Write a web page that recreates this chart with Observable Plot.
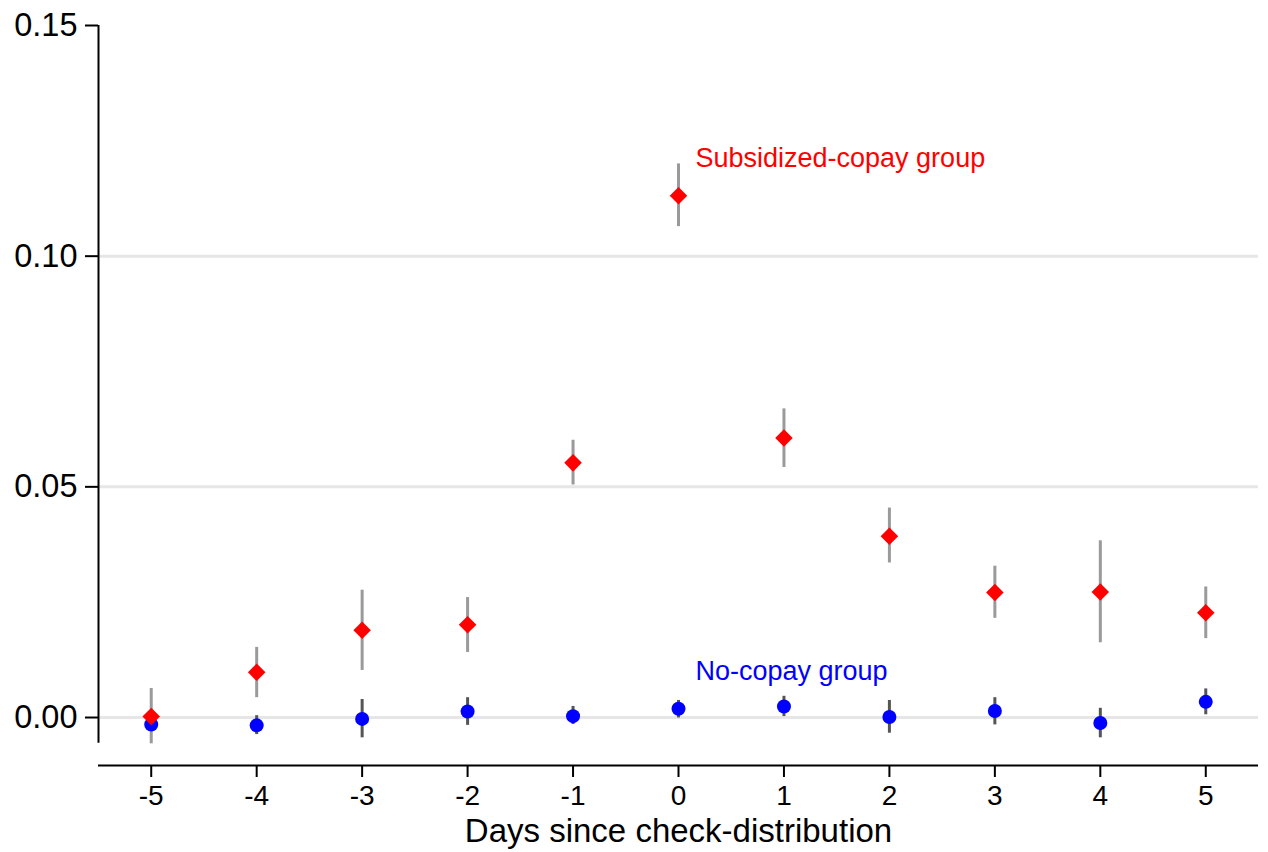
<!DOCTYPE html>
<html>
<head>
<meta charset="utf-8">
<script src="https://cdn.jsdelivr.net/npm/d3@7"></script>
<script src="https://cdn.jsdelivr.net/npm/@observablehq/plot@0.6"></script>
<style>
  html, body { margin: 0; padding: 0; background: #fff; }
</style>
</head>
<body>
<div id="chart"></div>
<script>
// Data
const days = [-5, -4, -3, -2, -1, 0, 1, 2, 3, 4, 5];
const subsidized = [0.0002, 0.0098, 0.0189, 0.0201, 0.0552, 0.1131, 0.0606, 0.0393, 0.0271, 0.0272, 0.0227];
const subLo      = [-0.0057, 0.0043, 0.0102, 0.0141, 0.0504, 0.1064, 0.0542, 0.0335, 0.0215, 0.0162, 0.0171];
const subHi      = [0.0063, 0.0152, 0.0276, 0.0260, 0.0601, 0.1200, 0.0669, 0.0454, 0.0328, 0.0383, 0.0283];
const noCopay    = [-0.0015, -0.0017, -0.0003, 0.0013, 0.0003, 0.0019, 0.0024, 0.0001, 0.0014, -0.0012, 0.0034];
const noLo       = [-0.0030, -0.0037, -0.0044, -0.0017, -0.0015, -0.0001, 0.0002, -0.0034, -0.0016, -0.0044, 0.0006];
const noHi       = [0.0008, 0.0004, 0.0039, 0.0043, 0.0024, 0.0037, 0.0046, 0.0037, 0.0043, 0.0020, 0.0062];
const yTicks = [0, 0.05, 0.10, 0.15];
const gridTicks = [0, 0.05, 0.10];
const xTicks = days;
const labels = [
  {text: "Subsidized-copay group", x: 0.161, y: 0.1193, color: "#ff0000"},
  {text: "No-copay group", x: 0.161, y: 0.0081, color: "#0000ff"}
];
const xTitle = "Days since check-distribution";

const xDomain = [-5.5, 5.5];
const yDomain = [-0.0104, 0.15];
const yAxisBottom = -0.0056;

const sub = days.map((d, i) => ({day: d, v: subsidized[i], lo: subLo[i], hi: subHi[i]}));
const noc = days.map((d, i) => ({day: d, v: noCopay[i], lo: noLo[i], hi: noHi[i]}));

const chart = Plot.plot({
  width: 1268,
  height: 852,
  marginLeft: 98,
  marginRight: 10,
  marginTop: 25,
  marginBottom: 87,
  style: {fontFamily: "'Liberation Sans', Arial, Helvetica, sans-serif", background: "#fff", color: "#000"},
  x: {domain: xDomain},
  y: {domain: yDomain},
  marks: [
    Plot.ruleY(gridTicks, {stroke: "#e6e6e6", strokeWidth: 3}),
    Plot.ruleX([xDomain[0]], {y1: yAxisBottom, y2: yDomain[1], stroke: "#000", strokeWidth: 2}),
    Plot.ruleY([yDomain[0]], {stroke: "#000", strokeWidth: 2}),
    Plot.axisY({ticks: yTicks, tickFormat: d3.format(".2f"), tickSize: 13, tickPadding: 8, fontSize: 32.5, strokeWidth: 2, label: null}),
    Plot.axisX({ticks: xTicks, tickFormat: d => d3.format("d")(d).replace("−", "-"), tickSize: 12, tickPadding: 8, fontSize: 28, strokeWidth: 2, label: null}),
    Plot.text([xTitle], {frameAnchor: "bottom", dy: 76, fontSize: 33, lineAnchor: "bottom", fill: "#000"}),
    Plot.ruleX(sub, {x: "day", y1: "lo", y2: "hi", stroke: "#9a9a9a", strokeWidth: 3}),
    Plot.ruleX(noc, {x: "day", y1: "lo", y2: "hi", stroke: "#555555", strokeWidth: 3}),
    Plot.dot(noc, {x: "day", y: "v", r: 7, fill: "#0000ff", stroke: null}),
    Plot.dot(sub, {x: "day", y: "v", r: 7.9, symbol: "diamond2", fill: "#ff0000", stroke: null}),
    Plot.text(labels, {x: "x", y: "y", text: "text", fill: "color", fontSize: 27, textAnchor: "start", lineAnchor: "bottom"})
  ]
});
document.getElementById("chart").appendChild(chart);
</script>
</body>
</html>
